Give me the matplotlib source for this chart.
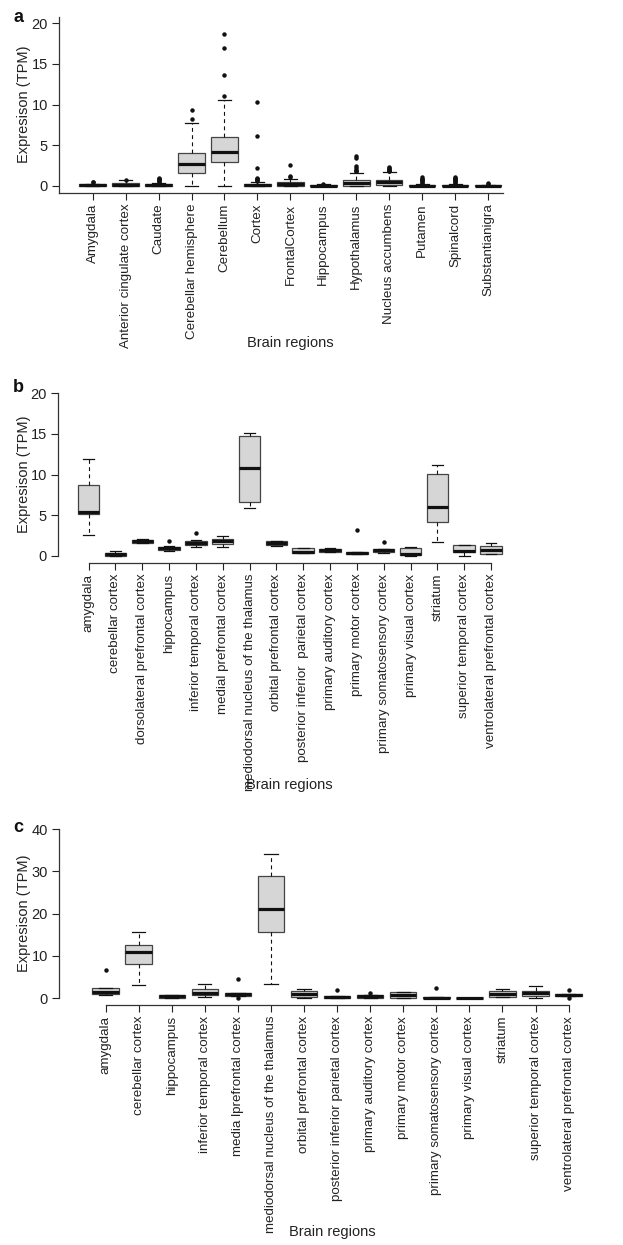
import matplotlib
matplotlib.use("Agg")
import matplotlib.pyplot as plt

plt.rcParams['font.family'] = ['Liberation Sans', 'DejaVu Sans']

# ---------------- panel a ----------------
a_labels = ["Amygdala", "Anterior cingulate cortex", "Caudate", "Cerebellar hemisphere",
            "Cerebellum", "Cortex", "FrontalCortex", "Hippocampus", "Hypothalamus",
            "Nucleus accumbens", "Putamen", "Spinalcord", "Substantianigra"]
a_q1 = [0.0, 0.05, 0.0, 1.55, 2.94, 0.05, 0.05, 0.0, 0.04, 0.08, 0.0, 0.0, 0.0]
a_med = [0.08, 0.15, 0.08, 2.74, 4.17, 0.15, 0.2, 0.03, 0.37, 0.45, 0.05, 0.04, 0.03]
a_q3 = [0.2, 0.35, 0.25, 4.05, 6.05, 0.3, 0.45, 0.12, 0.7, 0.74, 0.15, 0.15, 0.1]
a_lo = [0.0, 0.0, 0.0, 0.0, 0.0, 0.0, 0.0, 0.0, 0.0, 0.0, 0.0, 0.0, 0.0]
a_hi = [0.3, 0.7, 0.4, 7.73, 10.55, 0.5, 0.9, 0.2, 1.6, 1.72, 0.3, 0.25, 0.15]
a_out = [[0.45, 0.55],
         [0.75],
         [0.5, 0.6, 0.7, 0.8, 0.9, 1.0],
         [8.2, 9.3],
         [11.0, 13.6, 16.9, 18.6],
         [0.6, 0.7, 0.8, 0.9, 1.0, 2.2, 6.18, 10.35],
         [1.1, 1.19, 2.54],
         [0.3],
         [1.8, 1.9, 2.0, 2.2, 2.4, 3.4, 3.72],
         [1.8, 1.9, 2.0, 2.1, 2.2, 2.3],
         [0.4, 0.5, 0.6, 0.7, 0.8, 0.9, 1.06],
         [0.35, 0.5, 0.6, 0.7, 0.8, 0.9, 1.0, 1.15],
         [0.25, 0.35]]

# ---------------- panel b ----------------
b_labels = ["amygdala", "cerebellar cortex", "dorsolateral prefrontal cortex", "hippocampus",
            "inferior temporal cortex", "medial prefrontal cortex",
            "mediodorsal nucleus of the thalamus", "orbital prefrontal cortex",
            "posterior inferior  parietal cortex", "primary auditory cortex",
            "primary motor cortex", "primary somatosensory cortex", "primary visual cortex",
            "striatum", "superior temporal cortex", "ventrolateral prefrontal cortex"]
b_q1 = [5.2, 0.0, 1.65, 0.78, 1.35, 1.5, 6.57, 1.3, 0.35, 0.5, 0.25, 0.55, 0.1, 4.19, 0.55, 0.3]
b_med = [5.34, 0.25, 1.85, 1.0, 1.6, 1.85, 10.8, 1.6, 0.45, 0.75, 0.35, 0.75, 0.25, 6.0, 0.6, 0.7]
b_q3 = [8.67, 0.4, 2.0, 1.15, 1.9, 2.1, 14.75, 1.8, 0.95, 0.85, 0.55, 0.85, 1.0, 10.06, 1.4, 1.25]
b_lo = [2.55, 0.0, 1.6, 0.65, 1.07, 1.15, 5.9, 1.2, 0.35, 0.5, 0.25, 0.33, 0.0, 1.68, 0.0, 0.2]
b_hi = [11.9, 0.57, 2.05, 1.2, 1.95, 2.46, 15.15, 1.9, 0.99, 1.0, 0.55, 0.9, 1.1, 11.13, 1.4, 1.64]
b_out = [[], [], [], [1.89], [2.8], [], [], [], [], [], [3.2], [1.72], [], [], [], []]

# ---------------- panel c ----------------
c_labels = ["amygdala", "cerebellar cortex", "hippocampus", "inferior temporal cortex",
            "media lprefrontal cortex", "mediodorsal nucleus of the thalamus",
            "orbital prefrontal cortex", "posterior inferior parietal cortex",
            "primary auditory cortex", "primary motor cortex", "primary somatosensory cortex",
            "primary visual cortex", "striatum", "superior temporal cortex",
            "ventrolateral prefrontal cortex"]
c_q1 = [1.0, 8.06, 0.1, 0.7, 0.45, 15.65, 0.3, 0.0, 0.1, 0.0, 0.0, 0.0, 0.25, 0.45, 0.4]
c_med = [1.5, 10.9, 0.4, 1.26, 0.9, 21.1, 0.95, 0.15, 0.45, 0.63, 0.1, 0.03, 1.03, 1.18, 0.7]
c_q3 = [2.3, 12.5, 0.7, 2.05, 1.2, 28.8, 1.6, 0.4, 0.65, 1.35, 0.25, 0.1, 1.75, 1.65, 0.85]
c_lo = [0.63, 3.0, 0.1, 0.25, 0.45, 3.3, 0.0, 0.0, 0.1, 0.0, 0.0, 0.0, 0.25, 0.0, 0.4]
c_hi = [2.3, 15.6, 0.75, 3.24, 1.2, 34.07, 2.2, 0.4, 0.7, 1.5, 0.3, 0.1, 2.05, 2.76, 0.85]
c_out = [[6.56], [], [], [], [0.0, 4.4], [], [], [1.82], [1.26], [], [2.29], [], [], [], [0.0, 1.9]]

W, H = 623, 1245
fig = plt.figure(figsize=(W / 100, H / 100), dpi=100)
fig.patch.set_facecolor('white')

ink = '#222222'


def add_ax(x0, x1, ytop, ybot):
    return fig.add_axes([x0 / W, 1 - ybot / H, (x1 - x0) / W, (ybot - ytop) / H])


def draw(ax, labels, q1, med, q3, lo, hi, out, ylim, yticks, xlim, lab_y, lab_x=0.5, boxed=False):
    stats = []
    for i in range(len(labels)):
        stats.append(dict(q1=q1[i], med=med[i], q3=q3[i], whislo=lo[i], whishi=hi[i],
                          fliers=out[i], label=labels[i]))
    pos = list(range(1, len(labels) + 1))
    ax.bxp(stats, positions=pos, widths=0.8, patch_artist=True, showfliers=True,
           boxprops=dict(facecolor='#d6d6d6', edgecolor='#444444', linewidth=0.9),
           medianprops=dict(color='#111111', linewidth=2.3, solid_capstyle='butt'),
           whiskerprops=dict(color='#111111', linewidth=0.8, linestyle=(0, (3.5, 3))),
           capprops=dict(color='#111111', linewidth=0.9),
           capwidths=0.4,
           flierprops=dict(marker='o', markersize=2.2, markerfacecolor='#111111',
                           markeredgecolor='#111111', linestyle='none'))
    ax.set_xlim(*xlim)
    ax.set_ylim(*ylim)
    ax.set_yticks(yticks)
    ax.set_xticks(pos)
    ax.set_xticklabels(labels, rotation=90, fontsize=9.6, color=ink)
    ax.tick_params(axis='y', labelsize=10.5, colors=ink, length=5, width=0.8, pad=3)
    ax.tick_params(axis='x', colors=ink, length=5, width=0.8, pad=3)
    for s in ['top', 'right']:
        ax.spines[s].set_visible(False)
    for s in ['left', 'bottom']:
        ax.spines[s].set_color('#333333')
        ax.spines[s].set_linewidth(0.9)
    if not boxed:
        ax.spines['left'].set_bounds(yticks[0], yticks[-1])
        ax.spines['bottom'].set_bounds(pos[0], pos[-1])
    ax.set_ylabel('Expresison (TPM)', fontsize=10.5, color=ink)
    ax.set_xlabel('Brain regions', fontsize=10.5, color=ink)
    ax.xaxis.label.set_va('center')
    ax.xaxis.set_label_coords(lab_x, lab_y)
    ax.yaxis.label.set_va('center')
    bb = ax.get_position()
    ax.yaxis.set_label_coords(-(bb.x0 * W - 24) / (bb.width * W), 0.5)
    ax.set_facecolor('none')


ax_a = add_ax(59, 503, 16.5, 192.5)
draw(ax_a, a_labels, a_q1, a_med, a_q3, a_lo, a_hi, a_out,
     (-0.8, 20.8), [0, 5, 10, 15, 20], (-0.02, 13.45), -0.855, 0.52, boxed=True)

ax_b = add_ax(58, 521.6, 386.5, 562.5)
draw(ax_b, b_labels, b_q1, b_med, b_q3, b_lo, b_hi, b_out,
     (-0.8, 20.8), [0, 5, 10, 15, 20], (-0.14, 17.14), -1.264, 0.5)

ax_c = add_ax(59, 605, 822.4, 1004.8)
draw(ax_c, c_labels, c_q1, c_med, c_q3, c_lo, c_hi, c_out,
     (-1.6, 41.6), [0, 10, 20, 30, 40], (-0.41, 16.1), -1.246, 0.5)

fig.text(18 / W, 1 - 18 / H, 'a', fontsize=13, fontweight='bold', ha='center', va='center', color='#111111')
fig.text(18 / W, 1 - 388 / H, 'b', fontsize=13, fontweight='bold', ha='center', va='center', color='#111111')
fig.text(18 / W, 1 - 827 / H, 'c', fontsize=13, fontweight='bold', ha='center', va='center', color='#111111')

fig.savefig('out.png', dpi=100)
